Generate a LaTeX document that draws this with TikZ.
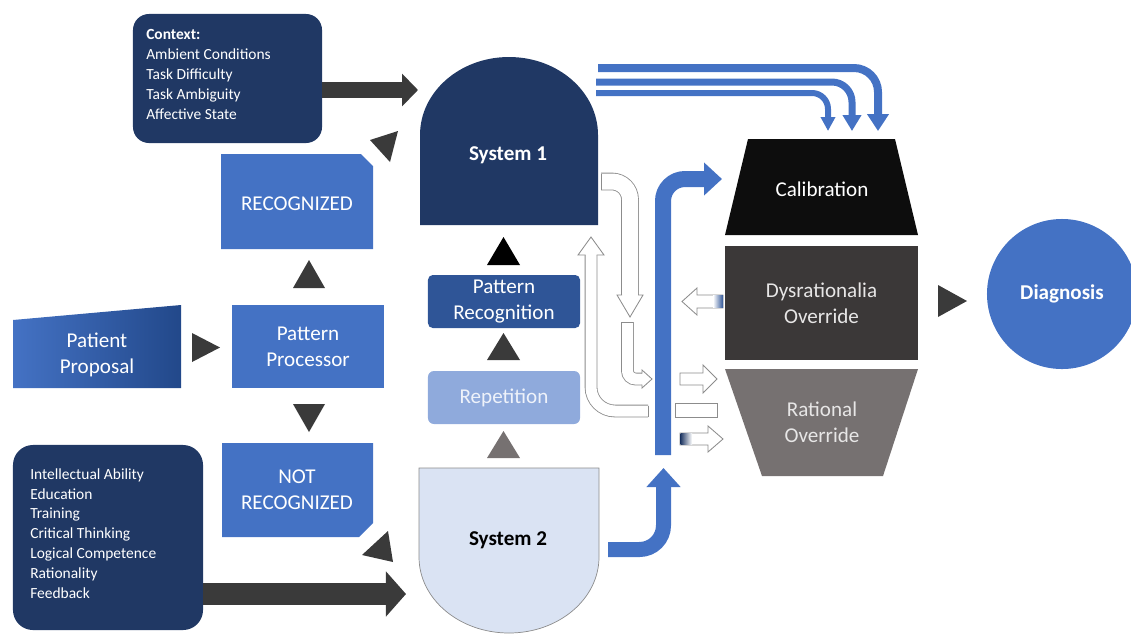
\documentclass[tikz,border=0pt]{standalone}
\usepackage{fontspec}
\setmainfont{Carlito}
\usetikzlibrary{arrows.meta}
\usetikzlibrary{positioning}
\definecolor{dxnavy}{HTML}{203864}
\definecolor{dxblue}{HTML}{4472C4}
\definecolor{dxmid}{HTML}{2F5597}
\definecolor{dxdeep}{HTML}{22488A}
\definecolor{dxlight}{HTML}{8FAADC}
\definecolor{dxpale}{HTML}{DAE3F3}
\definecolor{dxmist}{HTML}{EEF2FA}
\definecolor{dxdark}{HTML}{3A3A3A}
\definecolor{dxblack}{HTML}{0D0D0D}
\definecolor{dxcoal}{HTML}{3B3838}
\definecolor{dxgray}{HTML}{767171}
\definecolor{dxedge}{HTML}{8C8C8C}
\definecolor{dxsoft}{HTML}{E7E6E6}
\tikzset{
  dxlabel/.style={font=\fontsize{15}{18.5}\selectfont, align=center,
    inner sep=0pt, text=white},
  dxbold/.style={dxlabel, font=\fontsize{15}{18.5}\selectfont\bfseries},
  dxlist/.style={font=\fontsize{11}{14.2}\selectfont, align=left,
    text=white, inner sep=0pt, anchor=north west},
  dxpanel/.style={fill=dxnavy, inner sep=0pt},
  dxbox/.style={dxlabel, minimum width=3.8cm, minimum height=1.325cm},
  dxflow/.style={draw=dxblue, line join=round},
  dxhollow/.style={draw=dxedge, double=white, double distance=#1,
    line width=0.6pt},
  dxoutline/.style={draw=dxedge, line width=0.6pt, line join=miter},
}

\begin{document}
\begin{tikzpicture}[x=0.025cm, y=-0.025cm,
  dxtri/.style={fill=dxdark}]

\useasboundingbox (0,0) rectangle (1131,634);

% Context panel.
\node[dxpanel, rounded corners=0.4cm, minimum width=4.725cm,
  minimum height=3.225cm] (ctx) at (227.5,78.5) {};
\node[dxlist] (ctxtext) at (146,29)
  {\textbf{Context:}\\Ambient Conditions\\Task Difficulty\\
   Task Ambiguity\\Affective State};

% Ability panel.
\node[dxpanel, rounded corners=0.5cm, minimum width=4.75cm,
  minimum height=4.625cm] (abil) at (108,537.5) {};
\node[dxlist] (abiltext) at (30,468)
  {Intellectual Ability\\Education\\Training\\Critical Thinking\\
   Logical Competence\\Rationality\\Feedback};

% ------------------------------------------------------- left column
\shade[left color=dxblue, right color=dxdeep]
  (13,320) -- (181,305) -- (181,388) -- (13,388) -- cycle;
\node[dxlabel] (patprop) at (97,355) {Patient\\Proposal};

\node[dxbox, fill=dxblue, minimum width=3.8cm, minimum height=2.075cm]
  (pproc) at (308,346.5) {Pattern\\Processor};

\fill[dxblue] (221,154) -- (361,154) -- (373,166) -- (373,249)
  -- (221,249) -- cycle;
\node[dxlabel] (recog) at (297,204) {RECOGNIZED};

\fill[dxblue] (222,443) -- (373,443) -- (373,523) -- (359,537)
  -- (222,537) -- cycle;
\node[dxlabel] (notrecog) at (297,490) {NOT\\RECOGNIZED};

\fill[dxtri] (192,333) -- (220,347.5) -- (192,362) -- cycle;
\fill[dxtri] (293,288) -- (309,260) -- (325,288) -- cycle;
\fill[dxtri] (293,404) -- (309,432) -- (325,404) -- cycle;
\fill[dxtri] (370,140) -- (398,131) -- (390,162) -- cycle;
\fill[dxtri] (388,531) -- (362,555) -- (393,562) -- cycle;

% ----------------------------------------------------- middle column
\fill[dxnavy] (420,225) -- (420,135)
  arc[start angle=180, end angle=360, x radius=89, y radius=78]
  -- (598,225) -- cycle;
\node[dxbold] (sysone) at (508,155) {System 1};

\fill[dxpale, draw=dxedge, line width=0.5pt] (419,468) -- (599,468)
  -- (599,557)
  arc[start angle=0, end angle=180, x radius=90, y radius=76] -- cycle;
\node[dxbold, text=black] (systwo) at (508,540) {System 2};

\node[dxbox, fill=dxmid, rounded corners=0.12cm]
  (patrec) at (504,301.5) {Pattern\\Recognition};
\node[dxbox, fill=dxlight, rounded corners=0.15cm, text=dxmist]
  (repet) at (504,397.5) {Repetition};

\fill[black] (487,265) -- (503.5,237) -- (520,265) -- cycle;
\fill[dxtri] (487,360) -- (503.5,333) -- (520,360) -- cycle;
\fill[dxgray] (487,458) -- (503.5,431) -- (520,458) -- cycle;

% Thick inputs.
\coordinate (s1in) at (418,90);
\coordinate (s2in) at (406,594);
\draw[draw=dxdark, line width=0.4cm,
  -{Triangle[length=0.4cm, width=0.8cm]}] (ctx.east |- s1in) -- (s1in);
\draw[draw=dxdark, line width=0.55cm,
  -{Triangle[length=0.5cm, width=1.1cm]}] (abil.east |- s2in) -- (s2in);

% ------------------------------------------------------ hollow arrows
\draw[dxhollow=0.4cm, rounded corners=0.45cm]
  (601,181.5) -- (630,181.5) -- (630,295);
\draw[dxoutline] (601,173.5) -- (601,189.5);
\fill[white] (617,295) -- (630,317) -- (643,295) -- cycle;
\draw[dxoutline] (622,295) -- (617,295) -- (630,317) -- (643,295)
  -- (638,295);

\draw[dxhollow=0.275cm, rounded corners=0.6cm]
  (648,411) -- (591,411) -- (591,255);
\draw[dxoutline] (648,405.5) -- (648,416.5);
\fill[white] (578,255) -- (591,237) -- (604,255) -- cycle;
\draw[dxoutline] (585.5,255) -- (578,255) -- (591,237) -- (604,255)
  -- (596.5,255);

\draw[dxhollow=0.275cm, rounded corners=0.2cm]
  (627.5,322) -- (627.5,379) -- (642,379);
\draw[dxoutline] (622,322) -- (633,322);
\fill[white] (642,370) -- (652,379) -- (642,388) -- cycle;
\draw[dxoutline] (642,373.5) -- (642,370) -- (652,379) -- (642,388)
  -- (642,384.5);

\filldraw[dxoutline, fill=white] (723,295) -- (697,295) -- (697,288)
  -- (682,301.5) -- (697,315) -- (697,308) -- (723,308) -- cycle;
\shade[left color=white, right color=dxmid] (713,295.5) rectangle (723,307.5);

\filldraw[dxoutline, fill=white] (680,373) -- (703,373) -- (703,365)
  -- (717,379) -- (703,393) -- (703,385) -- (680,385) -- cycle;
\filldraw[dxoutline, fill=white] (675,403) rectangle (717,417);
\filldraw[dxoutline, fill=white] (680,433) -- (708,433) -- (708,426)
  -- (723,439) -- (708,452) -- (708,445) -- (680,445) -- cycle;
\shade[left color=dxnavy, right color=white] (680.5,433.5) rectangle (692,444.5);

% ------------------------------------------------------- blue flows
\coordinate (barfoot) at (663,455);
\coordinate (bartip) at (722,179);
\coordinate (s2out) at (608,549.5);
\coordinate (s2tip) at (663.5,468);
\draw[dxflow, line width=0.4cm, rounded corners=0.55cm,
  -{Triangle[length=0.45cm, width=0.8cm]}] (barfoot) |- (bartip);
\draw[dxflow, line width=0.375cm, rounded corners=0.6cm,
  -{Triangle[length=0.475cm, width=0.825cm]}] (s2out) -| (s2tip);

\draw[dxflow, line width=0.2cm, rounded corners=0.6cm,
  -{Triangle[length=0.425cm, width=0.525cm]}] (598,68) -| (878,131);
\draw[dxflow, line width=0.175cm, rounded corners=0.5cm,
  -{Triangle[length=0.4cm, width=0.45cm]}] (596,82) -| (852,131);
\draw[dxflow, line width=0.15cm, rounded corners=0.4cm,
  -{Triangle[length=0.35cm, width=0.35cm]}] (596,93) -| (828,131);

% ------------------------------------------------------- right stack
\fill[dxblack] (748,139) -- (895,139) -- (918,235) -- (725,235) -- cycle;
\node[dxlabel] (calib) at (822,189) {Calibration};

\node[dxlabel, fill=dxcoal, text=dxsoft, minimum width=4.825cm,
  minimum height=2.85cm] (dysr) at (821.5,303) {Dysrationalia\\Override};

\fill[dxgray] (725,369) -- (918,369) -- (883,476) -- (762,476) -- cycle;
\node[dxlabel, text=dxsoft] (ratio) at (822,422) {Rational\\Override};

\fill[dxtri] (938,285) -- (967,301) -- (938,317) -- cycle;

\node[dxbold, circle, fill=dxblue, minimum size=3.75cm]
  (diag) at (1062,294) {Diagnosis};

\end{tikzpicture}
\end{document}
